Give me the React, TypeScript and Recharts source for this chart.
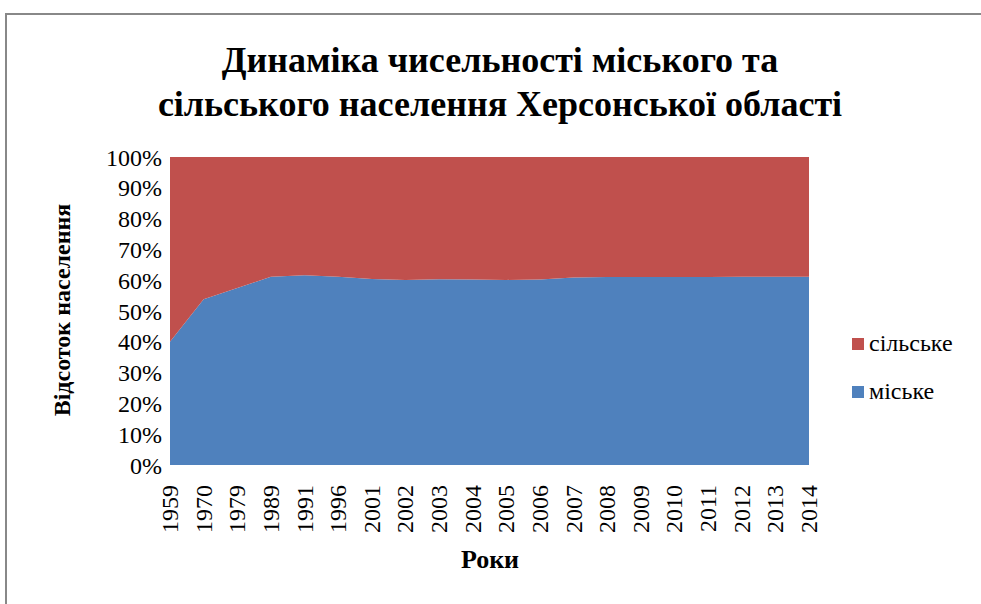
import { Area, AreaChart, XAxis, YAxis } from 'recharts'

const years = ['1959', '1970', '1979', '1989', '1991', '1996', '2001', '2002', '2003', '2004', '2005', '2006', '2007', '2008', '2009', '2010', '2011', '2012', '2013', '2014']
const urban = [40.0, 53.8, 57.5, 61.1, 61.6, 61.1, 60.4, 60.1, 60.3, 60.2, 60.1, 60.2, 60.9, 61.0, 61.0, 61.0, 61.0, 61.1, 61.1, 61.1]
const rural = [60.0, 46.2, 42.5, 38.9, 38.4, 38.9, 39.6, 39.9, 39.7, 39.8, 39.9, 39.8, 39.1, 39.0, 39.0, 39.0, 39.0, 38.9, 38.9, 38.9]
const yTicks = [0, 10, 20, 30, 40, 50, 60, 70, 80, 90, 100]

const data = years.map((year, i) => ({ year, urban: urban[i], rural: rural[i] }))

const URBAN = '#4F81BD'
const RURAL = '#C0504D'
const serif = "'Times New Roman', Tinos, 'Liberation Serif', 'DejaVu Serif', 'Noto Serif', FreeSerif, serif"

function YearTick({ x, y, payload }: { x?: number; y?: number; payload?: { value: string } }) {
	return (
		<text
			x={0}
			y={0}
			transform={`translate(${(x ?? 0) + 8},${(y ?? 0) + 12}) rotate(-90)`}
			textAnchor="end"
			style={{ fontFamily: serif }}
			fontSize={24}
			fill="#000"
		>
			{payload?.value}
		</text>
	)
}

function LegendRow({ color, label, top }: { color: string; label: string; top: number }) {
	return (
		<div style={{ position: 'absolute', left: 852, top, display: 'flex', alignItems: 'center', fontSize: 24 }}>
			<span style={{ display: 'inline-block', width: 12, height: 12, background: color, marginRight: 5 }} />
			{label}
		</div>
	)
}

export default function App() {
	return (
		<div style={{ position: 'absolute', left: 0, top: 0, width: 981, height: 604, overflow: 'hidden', background: '#fff', fontFamily: serif }}>
			<div style={{ position: 'absolute', left: 5, top: 13, width: 1100, height: 700, border: '2px solid #888' }} />
			<div style={{ position: 'absolute', left: 0, top: 38, width: 1000, textAlign: 'center', fontWeight: 'bold', fontSize: 36, lineHeight: '44px' }}>
				Динаміка чисельності міського та
				<br />
				сільського населення Херсонської області
			</div>
			<div
				style={{
					position: 'absolute',
					left: 62,
					top: 310,
					transform: 'translate(-50%, -50%) rotate(-90deg)',
					whiteSpace: 'nowrap',
					fontWeight: 'bold',
					fontSize: 24,
				}}
			>
				Відсоток населення
			</div>
			<div style={{ position: 'absolute', left: 490, top: 560, transform: 'translate(-50%, -50%)', fontWeight: 'bold', fontSize: 26 }}>Роки</div>
			<LegendRow color={RURAL} label="сільське" top={330} />
			<LegendRow color={URBAN} label="міське" top={378} />
			<div style={{ position: 'absolute', left: 0, top: 0 }}>
				<AreaChart width={981} height={604} data={data} margin={{ top: 157, left: 110, right: 172, bottom: 69 }}>
					<XAxis dataKey="year" axisLine={false} tickLine={false} tick={<YearTick />} interval={0} height={70} />
					<YAxis
						width={60}
						domain={[0, 100]}
						ticks={yTicks}
						interval={0}
						tickFormatter={(v: number) => `${v}%`}
						axisLine={false}
						tickLine={false}
						tick={{ fontSize: 24, fill: '#000', style: { fontFamily: serif } }}
						tickMargin={2}
					/>
					<Area type="linear" dataKey="urban" name="міське" stackId="1" stroke="none" fill={URBAN} fillOpacity={1} isAnimationActive={false} />
					<Area type="linear" dataKey="rural" name="сільське" stackId="1" stroke="none" fill={RURAL} fillOpacity={1} isAnimationActive={false} />
				</AreaChart>
			</div>
		</div>
	)
}
